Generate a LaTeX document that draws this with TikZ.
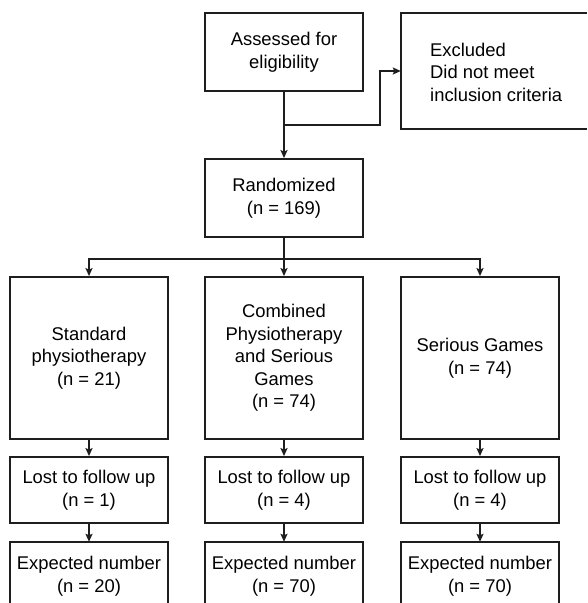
\documentclass[tikz,border=0pt]{standalone}
\usepackage{fontspec}
\setmainfont{Liberation Sans}
\usetikzlibrary{arrows.meta}
\definecolor{ink}{HTML}{1E1E1E}
\tikzset{
  every node/.style={font=\fontsize{18.4}{22.5}\selectfont, text=black},
  box/.style={draw=ink, line width=1.8pt, rectangle, inner sep=0pt, align=center, minimum width=158pt},
  ghost/.style={rectangle, inner sep=0pt, align=center, minimum width=158pt},
  conn/.style={draw=ink, line width=1.8pt},
  arr/.style={conn, -{Stealth[length=8pt,width=7pt,inset=1.5pt]}}
}
\begin{document}
\begin{tikzpicture}[x=1pt,y=-1pt]
\useasboundingbox (0,0) rectangle (587,603);
% top row
\node[box, minimum height=78pt] (assess) at (284,52) {Assessed for\\eligibility};
\node[rectangle, inner sep=0pt, minimum width=186pt, minimum height=116pt] (exclbox) at (494,71) {};
\draw[conn] (exclbox.north east) -- (exclbox.north west) -- (exclbox.south west) -- (exclbox.south east);
\node[anchor=west, align=left, inner sep=0pt] (excl) at (430,72) {Excluded\\Did not meet\\inclusion criteria};
\node[box, minimum height=78pt] (rand) at (284,198) {Randomized\\(n = 169)};
% arms
\node[box, minimum height=162pt] (std) at (89,358) {Standard\\physiotherapy\\(n = 21)};
\node[box, minimum height=162pt] (comb) at (284,358) {Combined\\Physiotherapy\\and Serious\\Games\\(n = 74)};
\node[box, minimum height=162pt] (ser) at (480,358) {Serious Games\\(n = 74)};
% lost
\node[box, minimum height=66pt] (lost1) at (89,490) {Lost to follow up\\(n = 1)};
\node[box, minimum height=66pt] (lost2) at (284,490) {Lost to follow up\\(n = 4)};
\node[box, minimum height=66pt] (lost3) at (480,490) {Lost to follow up\\(n = 4)};
% expected (cut at the bottom)
\node[ghost, minimum height=68pt] (exp1) at (89,576) {Expected number\\(n = 20)};
\node[ghost, minimum height=68pt] (exp2) at (284,576) {Expected number\\(n = 70)};
\node[ghost, minimum height=68pt] (exp3) at (480,576) {Expected number\\(n = 70)};
\foreach \e in {exp1,exp2,exp3}{
  \draw[conn] (\e.south west) -- (\e.north west) -- (\e.north east) -- (\e.south east);
}
% connectors
\coordinate (j1) at (284,125);
\coordinate (k1) at (380,125);
\draw[arr] (assess.south) -- (rand.north);
\draw[arr] (j1) -- (k1) |- (exclbox.west);
\coordinate (j2) at (284,259);
\draw[arr] (rand.south) -- (comb.north);
\draw[arr] (j2) -| (std.north);
\draw[arr] (j2) -| (ser.north);
\draw[arr] (std.south) -- (lost1.north);
\draw[arr] (comb.south) -- (lost2.north);
\draw[arr] (ser.south) -- (lost3.north);
\draw[arr] (lost1.south) -- (exp1.north);
\draw[arr] (lost2.south) -- (exp2.north);
\draw[arr] (lost3.south) -- (exp3.north);
\end{tikzpicture}
\end{document}
